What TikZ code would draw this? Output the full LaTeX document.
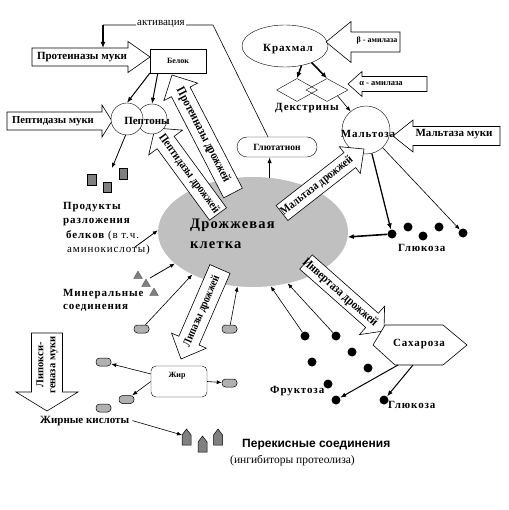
\documentclass[tikz,border=0pt]{standalone}
\usepackage{fontspec}
\setmainfont{Liberation Serif}
\newfontfamily\spc[LetterSpace=8]{Liberation Serif}
\newfontfamily\cond[FakeStretch=0.85]{Liberation Serif}
\newfontfamily\arialf{Liberation Sans}
\usetikzlibrary{shapes.geometric,arrows.meta,calc}
\definecolor{cellgray}{HTML}{C0C0C0}
\definecolor{dgray}{HTML}{808080}
\definecolor{pgray}{HTML}{B0B0B0}
\newcommand{\blockarrow}[7]{%
  \pgfmathsetmacro{\baang}{atan2(-(#4)+(#2),(#3)-(#1))}%
  \pgfmathsetmacro{\balen}{veclen((#3)-(#1),(#4)-(#2))}%
  \pgfmathsetmacro{\babase}{\balen-(#7)}%
  \begin{scope}[shift={(#1,#2)},rotate=\baang]
    \draw[blockarr] (0,-#5) -- (\babase,-#5) -- (\babase,-#6) -- (\balen,0) -- (\babase,#6) -- (\babase,#5) -- (0,#5) -- cycle;
  \end{scope}}
\newcommand{\peroxshape}[2]{%
  \draw[fill=dgray, line width=0.5pt] (#1-4.5,#2+8) -- (#1+4.5,#2+8) -- (#1+4.5,#2-2) -- (#1,#2-8) -- (#1-4.5,#2-2) -- cycle;}
\begin{document}
\begin{tikzpicture}[x=1pt,y=-1pt,
  arr/.style={-{Latex[length=5pt,width=4pt]}, line width=0.6pt},
  marr/.style={-{Latex[length=6pt,width=4.5pt]}, line width=1pt},
  tarr/.style={-{Latex[length=6pt,width=5pt]}, line width=1.6pt},
  blockarr/.style={draw, fill=white, line width=0.6pt},
  atext/.style={font=\bfseries\fontsize{#1}{12}\selectfont, inner sep=0, align=center},
  atext/.default=11,
  ctext/.style={font=\cond\bfseries\fontsize{#1}{13}\selectfont, inner sep=0, align=center},
  ctext/.default=12,
  lbl/.style={font=\bfseries\fontsize{11}{13}\selectfont, inner sep=0, anchor=base west},
  slbl/.style={font=\spc\bfseries\fontsize{11}{13}\selectfont, inner sep=0, anchor=base west},
  dot/.style={circle, fill=black, minimum size=9pt, inner sep=0},
  pill/.style={rectangle, rounded corners=3.5pt, draw, fill=pgray, minimum width=15pt, minimum height=8pt, inner sep=0, line width=0.5pt},
  prod/.style={rectangle, draw, fill=dgray, inner sep=0, line width=0.5pt},
  tri/.style={regular polygon, regular polygon sides=3, fill=dgray, draw=black!70, minimum size=10pt, inner sep=0, line width=0.3pt}]
\fill[white] (0,0) rectangle (508,510);
\useasboundingbox (0,0) rectangle (508,510);

% yeast cell
\node[ellipse, fill=cellgray, minimum width=190pt, minimum height=110pt, inner sep=0] (cell) at (253,232) {};
\node[font=\spc\bfseries\fontsize{14.5}{17}\selectfont, inner sep=0, anchor=base west] (cellt1) at (190,229) {Дрожжевая};
\node[font=\spc\bfseries\fontsize{14.5}{17}\selectfont, inner sep=0, anchor=base west] (cellt2) at (190,248) {клетка};

% glutathione
\node[draw, rounded corners=10pt, minimum width=80pt, minimum height=20pt, inner sep=0, fill=white, font=\bfseries\fontsize{9.5}{11}\selectfont] (glut) at (277,147) {Глютатион};
\draw[marr] (cell.73) -- (cell.73 |- glut.south);

% starch, dextrins, maltose
\node[draw, ellipse, minimum width=86pt, minimum height=42pt, inner sep=0, fill=white] (starch) at (285,46) {};
\node[slbl, anchor=base] (starcht) at (288,52) {Крахмал};
\node[draw, diamond, minimum width=41pt, minimum height=23pt, inner sep=0] (d1) at (297,90) {};
\node[draw, diamond, minimum width=42pt, minimum height=23pt, inner sep=0] (d2) at (327,90) {};
\draw[tarr] (starch.-50) -- (d1.north);
\draw[tarr] (starch.-32) -- (d2.north);
\node[slbl] (dext) at (275,111) {Декстрины};
\node[draw, circle, minimum size=48pt, inner sep=0] (maltose) at (366,130) {};
\draw[arr] (d2.south east) -- (maltose);

% block arrows
\blockarrow{32}{57}{150}{57}{9}{15.5}{22}
\node[atext] (t1) at (82,57) {Протеиназы муки};
\blockarrow{7}{121}{112}{121}{9}{16}{10}
\node[atext=10.7] (t2) at (53,121) {Пептидазы муки};
\blockarrow{233}{193}{172}{75}{10.5}{19}{19}
\node[ctext=12.5, rotate=-62.7] (t3) at (203,135) {Протеиназы дрожжей};
\blockarrow{218}{214}{155}{128}{10.5}{21}{18}
\node[ctext, rotate=-53.8] (t4) at (189,174) {Пептидазы дрожжей};
\blockarrow{400}{42}{326}{42}{10}{20.5}{25}
\node[atext=8] (t5) at (377,41) {β - амилаза};
\blockarrow{427}{84}{348}{84}{7.5}{12.5}{14}
\node[atext=8.5] (t6) at (381,84) {α - амилаза};
\blockarrow{500}{136}{393}{136}{9.5}{16}{20}
\node[atext] (t7) at (454,134) {Мальтаза муки};
\blockarrow{282}{213}{364}{149}{9.5}{17}{18}
\node[ctext, rotate=38] (t8) at (317,186) {Мальтаза дрожжей};
\blockarrow{306}{262}{384}{331}{9.5}{19}{16}
\node[ctext=12.5, rotate=-41.5] (t9) at (340,293) {Инвертаза дрожжей};
\blockarrow{220}{269}{181}{359}{11}{19}{20}
\node[ctext=11.5, rotate=66.6] (t10) at (202,311) {Липазы дрожжей};
\blockarrow{47}{333}{47}{411}{15.5}{31}{19}
\node[atext=10.5, rotate=90] (t11) at (47,365) {Липокси-\\геназа муки};

\node[slbl, anchor=base] (maltt) at (368,138) {Мальтоза};

% activation
\coordinate (act0) at (268,137);
\coordinate (act1) at (213,25);
\coordinate (act2) at (103,25);
\coordinate (pmtop) at (103,48);
\draw[line width=0.6pt] (act0) -- (act1) -- (act2);
\draw[tarr, line width=1.4pt] (act2) -- (pmtop);
\node[fill=white, inner sep=1pt, font=\fontsize{11}{13}\selectfont, anchor=base] (acttext) at (161,26) {активация};

% protein, peptones
\node[draw, fill=white, minimum width=56pt, minimum height=24pt, inner sep=0, font=\bfseries\fontsize{8}{10}\selectfont] (belok) at (178,61) {Белок};
\node[draw, circle, fill=white, minimum size=30pt, inner sep=0] (pep2) at (152,119) {};
\node[draw, circle, fill=white, minimum size=32pt, inner sep=0] (pep1) at (127,119) {};
\node[lbl, anchor=base] (peptxt) at (147,125) {Пептоны};
\draw[marr] (belok.south west) -- (pep1.north);
\draw[marr] ($(belok.south west)+(8,0)$) -- (pep2.north);

% products
\coordinate (prodend) at (112,168);
\draw[arr, line width=0.8pt] (pep1.265) -- (prodend);
\node[prod, minimum width=9pt, minimum height=11pt] (pr1) at (91.5,179.5) {};
\node[prod, minimum width=8pt, minimum height=10pt] (pr2) at (107,187) {};
\node[prod, minimum width=8pt, minimum height=11pt] (pr3) at (123,173.5) {};
\node[slbl] (pt1) at (63,210) {Продукты};
\node[slbl] (pt2) at (63,224) {разложения};
\node[slbl] (pt3) at (66,238) {белков \mdseries(в т.ч.};
\node[slbl, font=\spc\fontsize{11}{13}\selectfont] (pt4) at (67,252) {аминокислоты)};
\coordinate (pta) at (135,247);
\draw[arr, line width=0.8pt] (pta) -- (cell.179);

% minerals
\node[tri] (m1) at (138,276) {};
\node[tri] (m2) at (146,284) {};
\node[tri] (m3) at (154,293) {};
\coordinate (ma) at (150,278);
\draw[arr, line width=0.8pt] (ma) -- (cell.202);
\node[slbl] (mt1) at (63,296) {Минеральные};
\node[slbl] (mt2) at (63,309) {соединения};

% fat
\node[pill] (p1) at (141.5,329) {};
\node[pill] (p2) at (229.5,329) {};
\node[pill] (p3) at (103.5,362) {};
\node[pill] (p4) at (229.5,383) {};
\node[pill] (p5) at (126.5,399.5) {};
\node[pill] (p6) at (103.5,408) {};
\node[draw, fill=white, rounded corners=5pt, minimum width=56pt, minimum height=31pt, inner sep=0] (zhir) at (179,381.5) {};
\node[font=\bfseries\fontsize{8}{10}\selectfont, anchor=base, inner sep=0] (zhirt) at (177,377) {Жир};
\draw[arr] (zhir.165) -- (p3);
\draw[arr] (zhir.east) -- (p4);
\draw[arr] (zhir.west) -- (p5);
\draw[arr] (p1) -- (cell.215);
\draw[arr] (p2) -- (cell.254);

\node[lbl] (fat) at (40,423) {Жирные кислоты};
\coordinate (px1) at (182,435);
\draw[arr] ([xshift=3pt]fat.east) -- (px1);
\peroxshape{186.5}{437}
\peroxshape{202.5}{444}
\peroxshape{218}{437}
\node[font=\arialf\bfseries\fontsize{12}{14}\selectfont, anchor=base west, inner sep=0] (perox) at (242,447) {Перекисные соединения};
\node[font=\fontsize{11.5}{13}\selectfont, anchor=base west, inner sep=0] (inhib) at (230,463) {(ингибиторы протеолиза)};

% glucose from maltose
\node[dot] (g1) at (392,234) {};
\node[dot] (g2) at (408,227) {};
\node[dot] (g3) at (423,236) {};
\node[dot] (g4) at (439,227) {};
\node[dot] (g5) at (463,233) {};
\draw[tarr, line width=1.3pt] (maltose) -- (g1);
\draw[arr] (maltose) -- (g5);
\draw[tarr] (g1) -- (cell.-3);
\node[slbl] (glt) at (398,251) {Глюкоза};

% sucrose
\draw[fill=white, line width=0.6pt] (373,345) -- (385,325) -- (443,325) -- (467,345) -- (443,365) -- (395,365) -- cycle;
\node[slbl, anchor=base] (sucr) at (419,346) {Сахароза};
\node[dot] (f1) at (305,336) {};
\node[dot] (f2) at (336,336) {};
\node[dot] (f3) at (352,352) {};
\node[dot] (f4) at (312,362) {};
\node[dot] (f5) at (368,368) {};
\node[dot] (f6) at (328,384) {};
\node[dot] (f7) at (336,400) {};
\node[dot] (g6) at (384,400) {};
\draw[arr] (f1) -- (cell.288);
\draw[arr] (f2) -- (cell.304);
\coordinate (sb1) at (398,365);
\coordinate (sb2) at (413,365);
\draw[marr] (sb1) -- (f7);
\draw[marr] (sb2) -- (g6);
\node[slbl] (frt) at (270,393) {Фруктоза};
\node[slbl] (gl2) at (388,408) {Глюкоза};
\end{tikzpicture}
\end{document}
